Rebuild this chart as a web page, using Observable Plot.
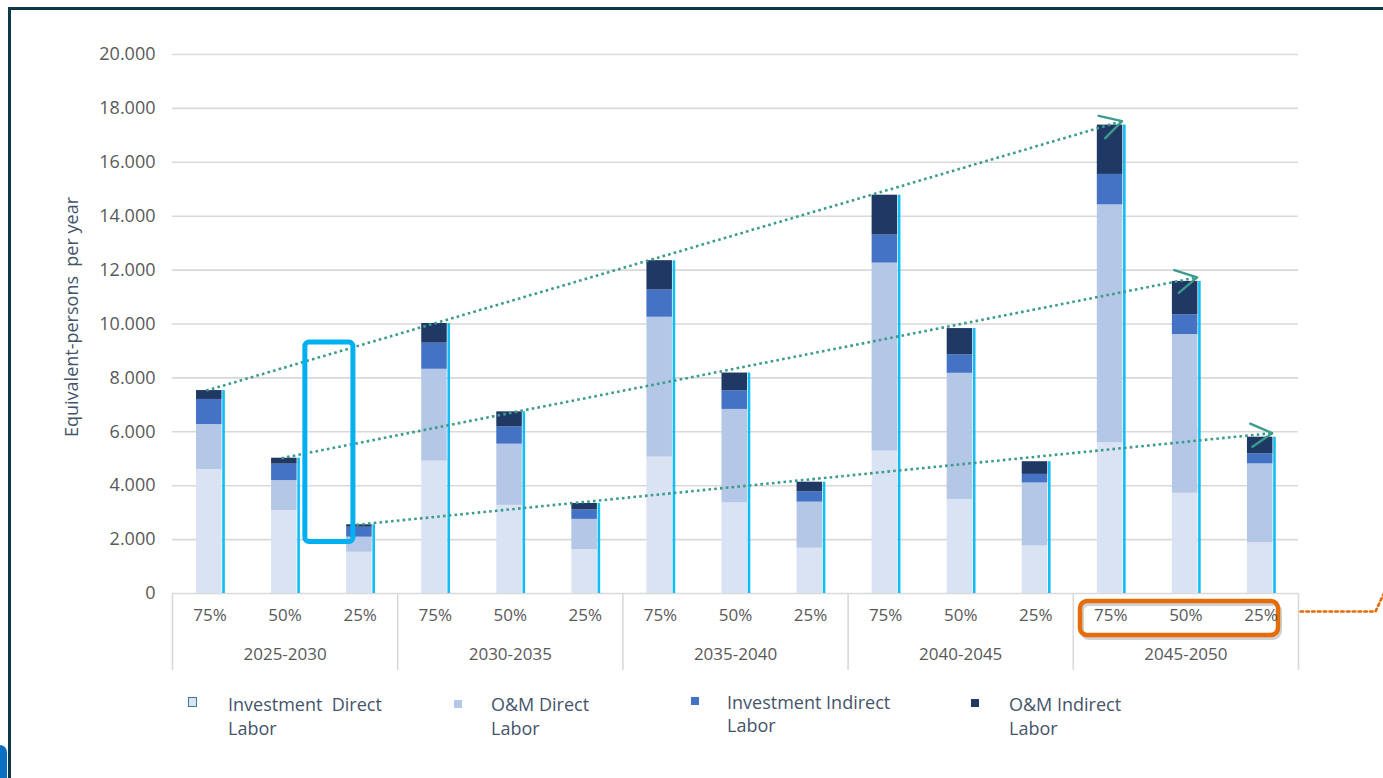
<!DOCTYPE html>
<html><head><meta charset="utf-8">
<script src="https://cdn.jsdelivr.net/npm/d3@7"></script>
<script src="https://cdn.jsdelivr.net/npm/@observablehq/plot@0.6"></script>
<style>
body{margin:0;background:#fff;}
#wrap{position:relative;width:1383px;height:778px;overflow:hidden;font-family:"Open Sans",sans-serif;background:#fff;}
#frame{position:absolute;left:8px;top:7px;width:1400px;height:800px;border-left:3px solid #0c3a4a;border-top:3px solid #0c3a4a;box-sizing:border-box;}
#blob{position:absolute;left:-8px;top:745px;width:15px;height:40px;background:#0a6fc2;border-radius:7px 7px 0 0;}
#chart{position:absolute;left:0;top:0;}
#legend{position:absolute;left:0;top:0;width:1383px;height:778px;pointer-events:none;}
.sw{position:absolute;width:8px;height:8px;box-sizing:border-box;}
.lt{position:absolute;font-size:18px;line-height:24px;color:#44546a;white-space:pre;}
</style></head>
<body><div id="wrap"><div id="frame"></div><div id="blob"></div><div id="chart"></div><div id="legend"></div></div>
<script>
// ---- data ----
const groups = ["2025-2030","2030-2035","2035-2040","2040-2045","2045-2050"];
const shares = ["75%","50%","25%"];
const seriesNames = ["Investment  Direct Labor","O&M Direct Labor","Investment Indirect Labor","O&M Indirect Labor"];
const seriesColors = ["#dae3f3","#b4c7e7","#4472c4","#203864"];
// one value per bar, in order group by group, 75% / 50% / 25%
const investmentDirect   = [4600,3080,1530, 4910,3270,1630, 5060,3360,1680, 5280,3490,1760, 5590,3720,1880];
const omDirect           = [1670,1110, 560, 3410,2270,1120, 5190,3470,1710, 6980,4680,2340, 8830,5890,2930];
const investmentIndirect = [ 930, 610, 370,  970, 640, 350, 1010, 690, 380, 1040, 690, 320, 1130, 730, 370];
const omIndirect         = [ 330, 220,  90,  730, 560, 240, 1090, 660, 360, 1480, 970, 470, 1830,1240, 620];
const yTicks = [0,2000,4000,6000,8000,10000,12000,14000,16000,18000,20000];
const yTitle = "Equivalent-persons  per year";
// trend arrows: from bar index to bar index (same share, first to last period)
const trendArrows = [{from:0,to:12},{from:1,to:13},{from:2,to:14}];

// ---- layout ----
const W = 1383, H = 680, mL = 172, mR = 85, mT = 54, mB = 87;
const pxX = (W - mL - mR) / 15;          // px per bar slot
const pxY = (H - mT - mB) / 20000;       // px per unit
const fromPxX = px => px / pxX;
const fromPxY = px => px / pxY;
const half = 0.18;

const seriesValues = [investmentDirect, omDirect, investmentIndirect, omIndirect];
const segs = [], totals = [];
for (let i = 0; i < 15; i++) {
  let acc = 0;
  seriesValues.forEach((arr, s) => {
    segs.push({i, series: seriesNames[s], y1: acc, y2: acc + arr[i]});
    acc += arr[i];
  });
  totals.push(acc);
}
const bars = d3.range(15).map(i => ({i, total: totals[i]}));

const arrows = trendArrows.map(a => ({
  x1: a.from + 0.45, y1: totals[a.from],
  x2: a.to + 0.65,   y2: totals[a.to] + 150
}));
const chevrons = [];
arrows.forEach((a, k) => {
  const dx = (a.x2 - a.x1) * pxX, dy = -(a.y2 - a.y1) * pxY;
  const ang = Math.atan2(dy, dx), L = 24, h = 29 * Math.PI / 180;
  const p = t => ({k, x: a.x2 + fromPxX(L * Math.cos(t)), y: a.y2 - fromPxY(L * Math.sin(t))});
  chevrons.push(p(ang + Math.PI - h), {k, x: a.x2, y: a.y2}, p(ang + Math.PI + h));
});

const fmt = d => d === 0 ? "0" : d3.format(",")(d).replace(/,/g, ".");
const groupEdges = d3.range(0, 16, 3);
const grid = yTicks.filter(d => d > 0);

// highlight annotations
const cyanBox = [{x1: 1.77, x2: 2.41, y1: 1910, y2: 9310}];
const orangeBox = [{x1: fromPxX(908), x2: fromPxX(1106), y1: -fromPxY(8), y2: -fromPxY(42)}];
const orangeLink = [
  {x: fromPxX(1128), y: -fromPxY(18)},
  {x: fromPxX(1203), y: -fromPxY(18)},
  {x: fromPxX(1215), y: fromPxY(8)}
];

const chart = Plot.plot({
  width: W, height: H,
  marginLeft: mL, marginRight: mR, marginTop: mT, marginBottom: mB,
  style: {fontFamily: "Open Sans, sans-serif", fontSize: "18px", color: "#595959", background: "transparent", overflow: "visible"},
  x: {type: "linear", domain: [0, 15], axis: null},
  y: {domain: [0, 20000], ticks: yTicks, tickFormat: fmt, tickSize: 0, tickPadding: 17, label: null},
  color: {domain: seriesNames, range: seriesColors},
  marks: [
    Plot.ruleY(grid, {x1: 0, x2: 15, stroke: "#d9d9d9", strokeWidth: 1.6}),
    Plot.ruleY([0], {x1: 0, x2: 15, stroke: "#d9d9d9", strokeWidth: 1.6}),
    Plot.ruleX(groupEdges, {y1: 0, y2: -fromPxY(77), stroke: "#d9d9d9", strokeWidth: 1.6}),
    Plot.rect(segs, {x1: d => d.i + 0.5 - half, x2: d => d.i + 0.5 + half - 0.02, y1: "y1", y2: "y2", fill: "series"}),
    Plot.ruleX(bars, {x: d => d.i + 0.5 + half, y1: 0, y2: "total", stroke: "#12bdf5", strokeWidth: 2.6}),
    Plot.link(arrows, {x1: "x1", y1: "y1", x2: "x2", y2: "y2", stroke: "#3c9c8c", strokeWidth: 2.6, strokeDasharray: "2.6 3.2"}),
    Plot.line(chevrons, {x: "x", y: "y", z: "k", stroke: "#3c9c8c", strokeWidth: 2.4, curve: "linear"}),
    Plot.rect(cyanBox, {x1: "x1", x2: "x2", y1: "y1", y2: "y2", fill: "none", stroke: "#00b0f0", strokeWidth: 5, rx: 4}),
    Plot.rect(orangeBox, {x1: "x1", x2: "x2", y1: "y1", y2: "y2", fill: "none", stroke: "#000", strokeOpacity: 0.18, strokeWidth: 4, rx: 7, dx: 2, dy: 3}),
    Plot.rect(orangeBox, {x1: "x1", x2: "x2", y1: "y1", y2: "y2", fill: "none", stroke: "#e46c0a", strokeWidth: 4.5, rx: 7}),
    Plot.line(orangeLink, {x: "x", y: "y", stroke: "#e46c0a", strokeWidth: 2.6, strokeDasharray: "2.6 3.2"}),
    Plot.text(d3.range(15), {x: i => i + 0.5, frameAnchor: "bottom", dy: 27, text: i => shares[i % 3], fill: "#595959", fontSize: 17}),
    Plot.text(groups, {x: (g, j) => j * 3 + 1.5, frameAnchor: "bottom", dy: 66, text: d => d, fill: "#595959", fontSize: 17}),
    Plot.text([yTitle], {frameAnchor: "left", textAnchor: "middle", dx: -100, dy: -7, rotate: -90, text: d => d, fill: "#44546a", fontSize: 18})
  ]
});
document.getElementById("chart").appendChild(chart);

// ---- legend ----
const legendPos = [
  {sw: [188, 697], tx: 228},
  {sw: [454, 700], tx: 491},
  {sw: [691, 697], tx: 727},
  {sw: [971, 699], tx: 1009}
];
const leg = document.getElementById("legend");
seriesNames.forEach((name, s) => {
  const p = legendPos[s];
  const sw = document.createElement("div");
  sw.className = "sw";
  sw.style.left = p.sw[0] + "px"; sw.style.top = p.sw[1] + "px";
  sw.style.background = seriesColors[s];
  if (s === 0) { sw.style.border = "1.6px solid #3a7a92"; sw.style.width = "9px"; sw.style.height = "10px"; }
  leg.appendChild(sw);
  const t = document.createElement("div");
  t.className = "lt";
  t.style.left = p.tx + "px"; t.style.top = (s === 2 ? 691 : 692) + "px";
  if (s === 2) t.style.lineHeight = "23px";
  t.textContent = name.replace(/ (\S+)$/, "\n$1");
  leg.appendChild(t);
});
</script></body></html>
